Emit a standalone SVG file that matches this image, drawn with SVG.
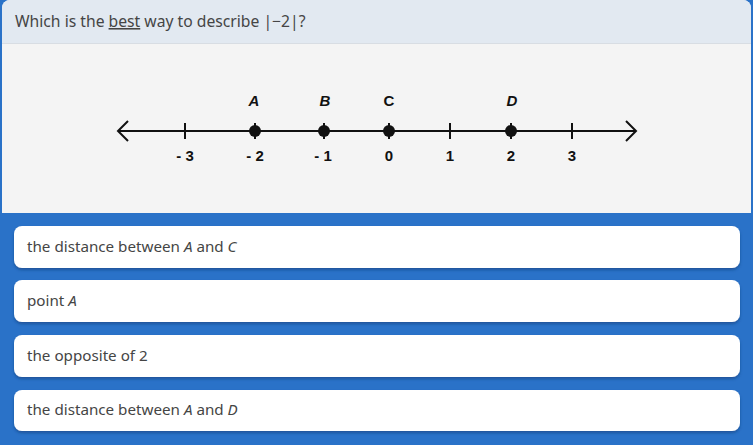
<svg xmlns="http://www.w3.org/2000/svg" width="753" height="445" viewBox="0 0 753 445">
<defs>
<style>
.q{font-family:"Noto Sans","Liberation Sans",sans-serif;font-size:15.7px;fill:#454545}
.opt{font-family:"Noto Sans","Liberation Sans",sans-serif;font-size:15.2px;fill:#454545}
.box{fill:#ffffff}
.lbl{font-family:"Liberation Sans",Arial,sans-serif;font-size:15px;font-weight:bold;fill:#111;text-anchor:middle}
.ax{stroke:#111;stroke-width:2;fill:none}
</style>
<filter id="sh" x="-5%" y="-20%" width="110%" height="160%">
<feDropShadow dx="0" dy="2" stdDeviation="1.5" flood-color="#0b3a75" flood-opacity="0.55"/>
</filter>
</defs>
<rect x="0" y="0" width="753" height="445" fill="#2a72c8"/>
<g id="panel">
<path d="M2,213 V8 A8,8 0 0 1 10,0 H743 A8,8 0 0 1 751,8 V213 Z" fill="#f4f4f4"/>
<path d="M2,43 V8 A8,8 0 0 1 10,0 H743 A8,8 0 0 1 751,8 V43 Z" fill="#e2e9f1"/>
<line x1="2" y1="43.5" x2="751" y2="43.5" stroke="#d8dde3" stroke-width="1"/>
</g>
<g id="question">
<text class="q" x="15" y="27">Which is the <tspan text-decoration="underline">best</tspan> way to describe |−2|?</text>
</g>
<g id="numberline">
<line class="ax" x1="118" y1="131" x2="636" y2="131"/>
<polyline class="ax" points="128,121 118,131 128,141"/>
<polyline class="ax" points="626,121 636,131 626,141"/>
<g class="ax">
<line x1="185" y1="123" x2="185" y2="139"/>
<line x1="255" y1="123" x2="255" y2="139"/>
<line x1="324" y1="123" x2="324" y2="139"/>
<line x1="389" y1="123" x2="389" y2="139"/>
<line x1="450" y1="123" x2="450" y2="139"/>
<line x1="511" y1="123" x2="511" y2="139"/>
<line x1="572" y1="123" x2="572" y2="139"/>
</g>
<g fill="#111">
<circle cx="255" cy="131" r="6"/>
<circle cx="324" cy="131" r="6"/>
<circle cx="389" cy="131" r="6"/>
<circle cx="511" cy="131" r="6"/>
</g>
<g class="lbl" font-style="italic">
<text x="254" y="106">A</text>
<text x="325" y="106">B</text>
<text x="389" y="106" font-style="normal">C</text>
<text x="512" y="106">D</text>
</g>
<g class="lbl">
<text x="185" y="161">- 3</text>
<text x="255" y="161">- 2</text>
<text x="323" y="161">- 1</text>
<text x="389" y="161">0</text>
<text x="450" y="161">1</text>
<text x="511" y="161">2</text>
<text x="572" y="161">3</text>
</g>
</g>
<g id="opt1">
<rect class="box" x="14" y="226" width="726" height="42" rx="8" filter="url(#sh)"/>
<text class="opt" x="27" y="252">the distance between <tspan font-style="italic">A</tspan> and <tspan font-style="italic">C</tspan></text>
</g>
<g id="opt2">
<rect class="box" x="14" y="280" width="726" height="42" rx="8" filter="url(#sh)"/>
<text class="opt" x="27" y="306">point <tspan font-style="italic">A</tspan></text>
</g>
<g id="opt3">
<rect class="box" x="14" y="335" width="726" height="42" rx="8" filter="url(#sh)"/>
<text class="opt" x="27" y="361">the opposite of 2</text>
</g>
<g id="opt4">
<rect class="box" x="14" y="390" width="726" height="41" rx="8" filter="url(#sh)"/>
<text class="opt" x="27" y="415">the distance between <tspan font-style="italic">A</tspan> and <tspan font-style="italic">D</tspan></text>
</g>
</svg>
